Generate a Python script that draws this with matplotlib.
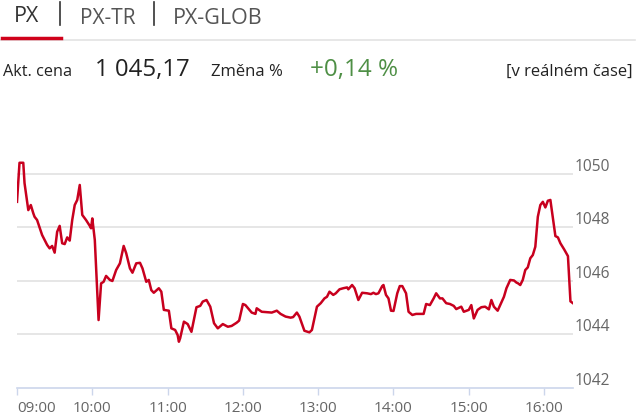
import matplotlib
matplotlib.use("Agg")
from matplotlib import pyplot as plt
import numpy as np

# minutes after 09:00 and index value (PX intraday)
minutes = [0, 2, 5, 6, 9, 11, 13, 14, 16, 20, 24, 26, 28, 30, 32, 34, 36, 38, 40, 42,
           44, 46, 48, 50, 52, 55, 58, 59, 60, 62, 65, 67, 69, 71, 74, 76, 79, 82, 85, 87,
           90, 92, 95, 98, 100, 103, 105, 107, 109, 113, 115, 117, 121, 123, 126, 128, 129, 130, 133, 136,
           139, 143, 146, 148, 151, 154, 157, 160, 164, 168, 171, 175, 177, 180, 182, 187, 190, 191, 195, 203,
           207, 210, 214, 218, 220, 223, 225, 229, 233, 235, 239, 242, 245, 247, 249, 252, 254, 257, 260, 263,
           264, 267, 269, 272, 275, 279, 282, 284, 286, 288, 291, 292, 294, 296, 298, 300, 303, 305, 307, 310,
           312, 315, 318, 324, 326, 329, 332, 334, 337, 339, 342, 345, 348, 350, 354, 356, 360, 362, 364, 367,
           370, 373, 376, 378, 380, 383, 385, 388, 390, 393, 396, 398, 399, 401, 403, 405, 407, 409, 411, 413,
           415, 417, 419, 421, 423, 425, 429, 431, 433, 436, 439, 441, 443]
values = [1048.96, 1050.42, 1050.42, 1049.66, 1048.65, 1048.84, 1048.53, 1048.40, 1048.28, 1047.72,
          1047.35, 1047.22, 1047.31, 1047.06, 1047.84, 1048.06, 1047.41, 1047.38, 1047.63, 1047.51,
          1048.28, 1048.84, 1049.03, 1049.59, 1048.47, 1048.28, 1048.06, 1047.97, 1048.34, 1047.53,
          1044.54, 1045.91, 1045.97, 1046.19, 1046.04, 1046.00, 1046.41, 1046.66, 1047.31, 1047.04,
          1046.47, 1046.31, 1046.66, 1046.68, 1046.47, 1045.97, 1046.04, 1045.66, 1045.56, 1045.73,
          1045.60, 1044.92, 1044.89, 1044.23, 1044.17, 1043.98, 1043.73, 1043.86, 1044.48, 1044.39,
          1044.10, 1045.02, 1045.07, 1045.23, 1045.29, 1045.04, 1044.42, 1044.23, 1044.39, 1044.29,
          1044.32, 1044.44, 1044.52, 1045.14, 1045.10, 1044.82, 1044.77, 1044.98, 1044.85, 1044.82,
          1044.89, 1044.77, 1044.67, 1044.63, 1044.65, 1044.82, 1044.67, 1044.14, 1044.08, 1044.17,
          1045.04, 1045.17, 1045.35, 1045.41, 1045.60, 1045.48, 1045.54, 1045.69, 1045.73, 1045.76,
          1045.69, 1045.85, 1045.73, 1045.29, 1045.56, 1045.54, 1045.51, 1045.56, 1045.51, 1045.54,
          1045.81, 1045.85, 1045.48, 1045.35, 1044.89, 1044.88, 1045.54, 1045.81, 1045.81, 1045.54,
          1044.85, 1044.73, 1044.77, 1044.77, 1045.14, 1045.10, 1045.35, 1045.54, 1045.35, 1045.35,
          1045.17, 1045.14, 1045.07, 1044.95, 1045.04, 1044.85, 1044.92, 1045.10, 1044.60, 1044.92,
          1045.02, 1045.04, 1044.94, 1045.29, 1045.04, 1044.89, 1045.10, 1045.41, 1045.73, 1046.04,
          1046.02, 1045.94, 1045.92, 1045.85, 1046.04, 1046.41, 1046.51, 1046.85, 1046.97, 1047.28,
          1048.40, 1048.84, 1048.96, 1048.75, 1049.00, 1049.03, 1047.68, 1047.63, 1047.41, 1047.18,
          1046.93, 1045.24, 1045.17]

hour_ticks = [0, 60, 120, 180, 240, 300, 360, 420]
hour_labels = ["09:00", "10:00", "11:00", "12:00", "13:00", "14:00", "15:00", "16:00"]
y_ticks = [1042, 1044, 1046, 1048, 1050]

tabs = ["PX", "PX-TR", "PX-GLOB"]
price = "1 045,17"
change = "+0,14 %"

plt.rcParams['font.family'] = ['Open Sans', 'DejaVu Sans']

W, H = 640, 416
fig = plt.figure(figsize=(W/100, H/100), dpi=100)


def fx(px):
    return px / W


def fy(py):
    return 1 - py / H


# header tabs
fig.text(fx(14), fy(17), tabs[0], fontsize=15.5, color='#333333', va='center')
fig.text(fx(80), fy(18), tabs[1], fontsize=15, color='#555555', va='center')
fig.text(fx(173), fy(18), tabs[2], fontsize=15.5, color='#555555', va='center')
for sx in [60, 154]:
    fig.add_artist(plt.Line2D([fx(sx), fx(sx)], [fy(2), fy(25)], color='#333333', lw=1.2))
fig.add_artist(plt.Line2D([fx(0), fx(635)], [fy(40), fy(40)], color='#e3e3e3', lw=1.2))
fig.add_artist(plt.Line2D([fx(2), fx(61)], [fy(37.5), fy(37.5)], color='#d0021b', lw=2.5))

# price row
fig.text(fx(3), fy(72), "Akt. cena", fontsize=11.7, color='#222222', va='center')
fig.text(fx(95), fy(70), price, fontsize=17.3, color='#222222', va='center')
fig.text(fx(211), fy(72), "Změna %", fontsize=12, color='#222222', va='center')
fig.text(fx(310), fy(70), change, fontsize=17.5, color='#4e8f45', va='center')
fig.text(fx(633), fy(72), "[v reálném čase]", fontsize=12, color='#222222',
         va='center', ha='right')

# chart
x0, x1 = 17, 573
ylo, yhi = 1042, 1051.5
py_per_unit = 26.75
top_px = 388 - (yhi - ylo) * py_per_unit
ax = fig.add_axes([fx(x0), fy(388), (x1 - x0) / W, (388 - top_px) / H])
ax.plot(minutes, values, color='#c8001e', lw=1.8, solid_joinstyle='round')
ax.set_xlim(0, (x1 - x0) * 60 / 75.3)
ax.set_ylim(ylo, yhi)

for v in y_ticks[1:]:
    ax.axhline(v, color='#e2e2e2', lw=1.2, zorder=0)
for v in y_ticks:
    ax.annotate(str(v), xy=(1, v), xycoords=('axes fraction', 'data'),
                xytext=(2, 7), textcoords='offset pixels', va='center', ha='left',
                fontsize=11.2, color='#666666', annotation_clip=False)

ax.set_yticks([])
for s in ['top', 'left', 'right']:
    ax.spines[s].set_visible(False)
ax.spines['bottom'].set_color('#ccd6eb')
ax.spines['bottom'].set_linewidth(1.2)
ax.set_xticks(hour_ticks)
ax.set_xticklabels(hour_labels)
ax.tick_params(axis='x', direction='out', length=5, width=1, color='#ccd6eb',
               labelsize=11, labelcolor='#666666', pad=4)
ax.get_xticklabels()[0].set_ha('left')

fig.savefig("out.png", dpi=100)
